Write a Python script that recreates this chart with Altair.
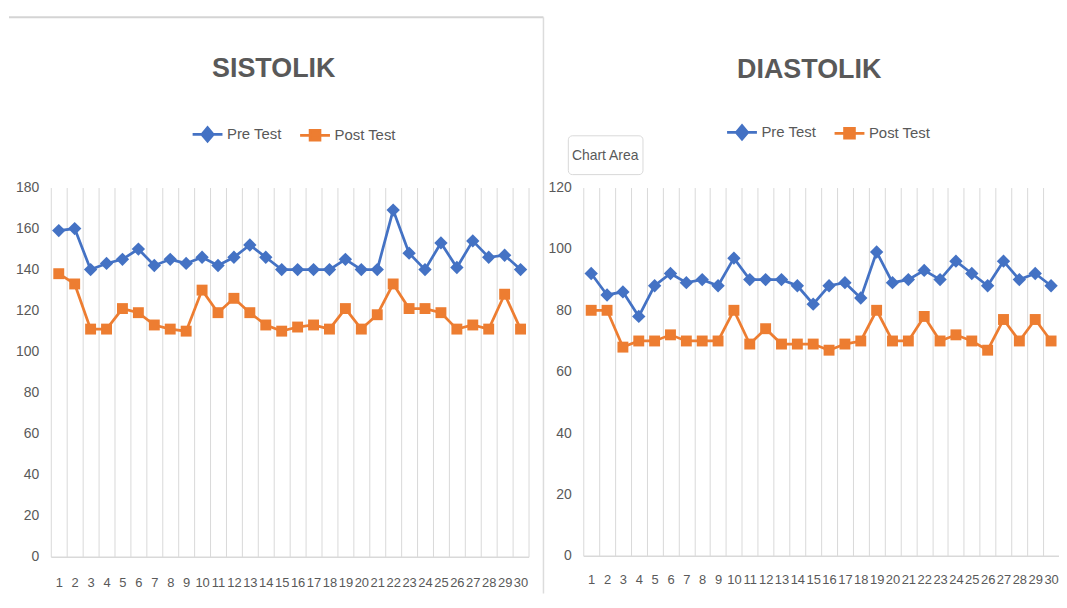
import altair as alt
import pandas as pd

# ---------------- data ----------------
days = list(range(1, 31))
series = ["Pre Test", "Post Test"]
colors = ["#4472C4", "#ED7D31"]

sis_pre = [159, 160, 140, 143, 145, 150, 142, 145, 143, 146, 142, 146, 152, 146, 140,
           140, 140, 140, 145, 140, 140, 169, 148, 140, 153, 141, 154, 146, 147, 140]
sis_post = [138, 133, 111, 111, 121, 119, 113, 111, 110, 130, 119, 126, 119, 113, 110,
            112, 113, 111, 121, 111, 118, 133, 121, 121, 119, 111, 113, 111, 128, 111]
dia_pre = [92, 85, 86, 78, 88, 92, 89, 90, 88, 97, 90, 90, 90, 88, 82,
           88, 89, 84, 99, 89, 90, 93, 90, 96, 92, 88, 96, 90, 92, 88]
dia_post = [80, 80, 68, 70, 70, 72, 70, 70, 70, 80, 69, 74, 69, 69, 69,
            67, 69, 70, 80, 70, 70, 78, 70, 72, 70, 67, 77, 70, 77, 70]

titles = ["SISTOLIK", "DIASTOLIK"]
y_max = [180, 120]
tooltip_text = ["Chart Area"]

FONT = "Liberation Sans, Arial, sans-serif"
GRAY = "#595959"
GRID = "#d9d9d9"
LEG_DIAMOND = "M-1,0L1,0M0,-0.45L0.38,0L0,0.45L-0.38,0Z"
LEG_SQUARE = "M-1,0L1,0M-0.33,-0.33L0.33,-0.33L0.33,0.33L-0.33,0.33Z"


def panel(title, pre, post, ymax, w, h, title_xy, legend_xy, xlab_pad, extras):
    df = pd.DataFrame({
        "day": days * 2,
        "series": [series[0]] * len(days) + [series[1]] * len(days),
        "value": pre + post,
    })
    x = alt.X(
        "day:O",
        scale=alt.Scale(type="band", paddingInner=0, paddingOuter=0),
        bandPosition=0.5,
        axis=alt.Axis(
            title=None, tickBand="extent", grid=True, gridColor=GRID, gridWidth=1,
            ticks=False, labelAngle=0, labelOverlap=False, labelBound=False,
            domainColor=GRID, domainWidth=1.5, labelPadding=xlab_pad,
            labelFont=FONT, labelFontSize=13, labelColor=GRAY,
        ),
    )
    y = alt.Y(
        "value:Q",
        scale=alt.Scale(domain=[0, ymax], nice=False, zero=True),
        axis=alt.Axis(
            title=None, values=list(range(0, ymax + 1, 20)), grid=False, domain=False,
            ticks=False, labelPadding=12, labelFont=FONT, labelFontSize=14,
            labelColor=GRAY,
        ),
    )
    base = alt.Chart(df).encode(x=x, y=y)
    layers = list(extras)
    for s, col, shp, sz in [(series[0], colors[0], "diamond", 180),
                            (series[1], colors[1], "square", 120)]:
        sub = base.transform_filter(alt.datum.series == s)
        layers.append(sub.mark_line(color=col, strokeWidth=2.75))
        layers.append(sub.mark_point(shape=shp, filled=True, size=sz, color=col,
                                     opacity=1, strokeWidth=0))

    legkw = dict(
        orient="none", legendX=legend_xy[0], legendY=legend_xy[1],
        direction="horizontal", title=None, labelFont=FONT, labelFontSize=15,
        labelColor=GRAY, symbolSize=900, symbolStrokeWidth=2.75, columnPadding=12,
        labelOffset=3, padding=0, symbolOpacity=1,
    )
    leg = alt.Chart(df).transform_filter("false").mark_point(filled=True, opacity=1).encode(
        fill=alt.Fill("series:N", scale=alt.Scale(domain=series, range=colors),
                      legend=alt.Legend(**legkw)),
        stroke=alt.Stroke("series:N", scale=alt.Scale(domain=series, range=colors),
                          legend=alt.Legend(**legkw)),
        shape=alt.Shape("series:N", scale=alt.Scale(domain=series, range=[LEG_DIAMOND, LEG_SQUARE]),
                        legend=alt.Legend(**legkw)),
    )
    layers.append(leg)

    ttl = alt.Chart(pd.DataFrame({"t": [title]})).mark_text(
        font=FONT, fontSize=27, fontWeight="bold", color=GRAY, align="center",
        baseline="alphabetic",
    ).encode(text="t:N", x=alt.value(title_xy[0]), y=alt.value(title_xy[1]))
    layers.append(ttl)

    return alt.layer(*layers).properties(width=w, height=h)


# decorations of the left panel (chart-area frame of the screenshot)
one = pd.DataFrame({"k": [0]})
frame_top = alt.Chart(one).mark_rule(color="#d4d4d4", strokeWidth=2).encode(
    x=alt.value(-42), x2=alt.value(495), y=alt.value(-171))
frame_side = alt.Chart(one).mark_rule(color="#dcdcdc", strokeWidth=1.5).encode(
    x=alt.value(495), y=alt.value(-171), y2=alt.value(408))

# "Chart Area" tooltip on the right panel
tip_box = alt.Chart(one).mark_rect(fill="white", stroke="#d9d9d9", strokeWidth=1,
                                   cornerRadius=4).encode(
    x=alt.value(-15), x2=alt.value(60), y=alt.value(-52), y2=alt.value(-13))
tip_txt = alt.Chart(pd.DataFrame({"t": tooltip_text})).mark_text(
    font=FONT, fontSize=14, color=GRAY, align="center", baseline="middle").encode(
    text="t:N", x=alt.value(22), y=alt.value(-32))

left = panel(titles[0], sis_pre, sis_post, y_max[0], 480, 371,
             (224, -111), (141, -70), 20, [frame_top, frame_side])
right = panel(titles[1], dia_pre, dia_post, y_max[1], 478, 370,
              (227, -110), (143, -72), 18, [tip_box, tip_txt])

chart = alt.hconcat(left, right, spacing=55, bounds="flush").resolve_scale(
    fill="independent", stroke="independent", shape="independent"
).resolve_legend(
    fill="independent", stroke="independent", shape="independent"
).properties(
    padding={"left": 0, "top": 7, "right": 0, "bottom": 0}
).configure_view(stroke=None)

chart.save("out.html", embed_options={"renderer": "svg", "actions": False})
